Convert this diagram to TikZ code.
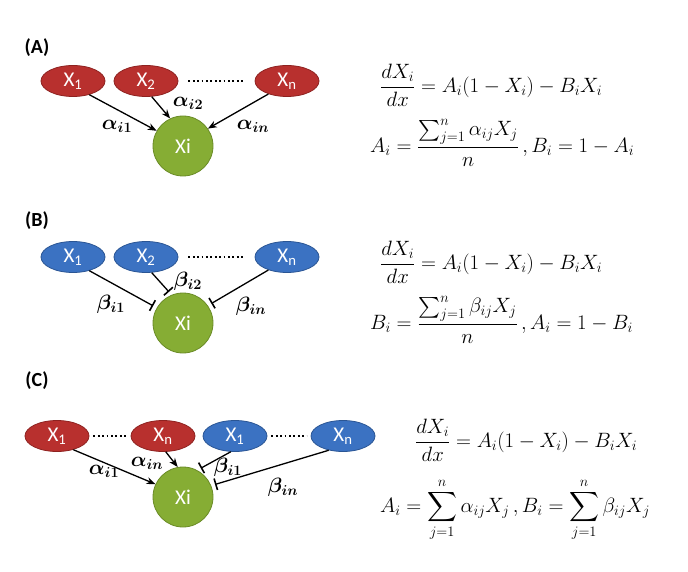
\documentclass[tikz,border=0pt]{standalone}
\usepackage{amsmath,bm}
\usepackage{fontspec}
\newfontfamily\carl{Carlito}
\usetikzlibrary{arrows.meta,shapes.geometric}
\definecolor{redfill}{HTML}{B8302E}
\definecolor{redline}{HTML}{8E2220}
\definecolor{bluefill}{HTML}{3B72C2}
\definecolor{blueline}{HTML}{2A5594}
\definecolor{greenfill}{HTML}{86AD34}
\definecolor{greenline}{HTML}{6A8B26}
\tikzset{
  redn/.style={ellipse, minimum width=64pt, minimum height=31pt, inner sep=0pt, fill=redfill, draw=redline, line width=0.8pt, text=white, font=\carl\fontsize{21}{23}\selectfont},
  bluen/.style={redn, fill=bluefill, draw=blueline},
  xin/.style={circle, minimum size=60pt, inner sep=0pt, fill=greenfill, draw=greenline, line width=0.8pt, text=white, font=\carl\fontsize{21}{23}\selectfont},
  act/.style={-{Stealth[length=9pt,width=7pt]}, line width=1.3pt},
  inh/.style={-{Bar[width=12pt,line width=1.6pt]}, line width=1.3pt, shorten >=4pt},
  dots/.style={dash pattern=on 1.8pt off 2.6pt, line width=1.8pt},
  lab/.style={font=\carl\bfseries\fontsize{20}{22}\selectfont, anchor=center},
  wl/.style={font=\fontsize{21}{23}\selectfont, inner sep=0pt},
  eq/.style={font=\fontsize{19.5}{23}\selectfont, anchor=west, inner sep=0pt}
}
\newcommand{\bal}[1]{\bm{\alpha}_{\bm{#1}}}
\newcommand{\bbe}[1]{\bm{\beta}_{\bm{#1}}}
\begin{document}
\begin{tikzpicture}[x=1pt,y=-1pt]
\useasboundingbox (0,0) rectangle (688,572);
% (A)
\node[lab] (la) at (37,48) {(A)};
\node[redn] (a1) at (73,81) {X\textsubscript{1}};
\node[redn] (a2) at (146,81) {X\textsubscript{2}};
\node[redn] (an) at (287,81) {X\textsubscript{n}};
\node[xin] (ai) at (183,146) {Xi};
\draw[dots] ([xshift=10pt]a2.east) coordinate (ad1) -- ([xshift=-10pt]an.west) coordinate (ad2);
\draw[act] (a1.-40) -- (ai.150);
\draw[act] (a2.-70) -- (ai.115);
\draw[act] (an.-145) -- (ai.35);
\node[wl] (la1) at (117,126) {$\bal{i1}$};
\node[wl] (la2) at (188,103) {$\bal{i2}$};
\node[wl] (lan) at (253,126) {$\bal{in}$};
\node[eq] (ea1) at (380,85) {$\dfrac{dX_i}{dx} = A_i(1-X_i) - B_iX_i$};
\node[eq] (ea2) at (370,143) {$A_i = \dfrac{\sum_{j=1}^{n}\alpha_{ij}X_j}{n}\,, B_i = 1 - A_i$};
% (B)
\node[lab] (lb) at (37,221) {(B)};
\node[bluen] (b1) at (73,257) {X\textsubscript{1}};
\node[bluen] (b2) at (146,257) {X\textsubscript{2}};
\node[bluen] (bn) at (287,257) {X\textsubscript{n}};
\node[xin] (bi) at (183,323) {Xi};
\draw[dots] ([xshift=10pt]b2.east) coordinate (bd1) -- ([xshift=-10pt]bn.west) coordinate (bd2);
\draw[inh] (b1.-40) -- (bi.150);
\draw[inh] (b2.-70) -- (bi.112);
\draw[inh] (bn.-145) -- (bi.35);
\node[wl] (lb1) at (111,304) {$\bbe{i1}$};
\node[wl] (lb2) at (188,281) {$\bbe{i2}$};
\node[wl] (lbn) at (251,306) {$\bbe{in}$};
\node[eq] (eb1) at (380,262) {$\dfrac{dX_i}{dx} = A_i(1-X_i) - B_iX_i$};
\node[eq] (eb2) at (370,320) {$B_i = \dfrac{\sum_{j=1}^{n}\beta_{ij}X_j}{n}\,, A_i = 1 - B_i$};
% (C)
\node[lab] (lc) at (37,381) {(C)};
\node[redn] (c1) at (57,436) {X\textsubscript{1}};
\node[redn] (c2) at (163,436) {X\textsubscript{n}};
\node[bluen] (c3) at (235,436) {X\textsubscript{1}};
\node[bluen] (c4) at (343,436) {X\textsubscript{n}};
\node[xin] (ci) at (183,497) {Xi};
\draw[dots] ([xshift=4pt]c1.east) coordinate (cd1) -- ([xshift=-4pt]c2.west) coordinate (cd2);
\draw[dots] ([xshift=4pt]c3.east) coordinate (cd3) -- ([xshift=-4pt]c4.west) coordinate (cd4);
\draw[act] (c1.-40) -- (ci.155);
\draw[act] (c2.-80) -- (ci.100);
\draw[inh] (c3.-105) -- (ci.62);
\draw[inh] (c4.-135) -- (ci.22);
\node[wl] (lc1) at (104,471) {$\bal{i1}$};
\node[wl] (lc2) at (147,463) {$\bal{in}$};
\node[wl] (lc3) at (228,467) {$\bbe{i1}$};
\node[wl] (lc4) at (283,487) {$\bbe{in}$};
\node[eq] (ec1) at (415,440) {$\dfrac{dX_i}{dx} = A_i(1-X_i) - B_iX_i$};
\node[eq] (ec2) at (380,510) {$A_i = \displaystyle\sum_{j=1}^{n}\alpha_{ij}X_j\,, B_i = \sum_{j=1}^{n}\beta_{ij}X_j$};
\end{tikzpicture}
\end{document}
